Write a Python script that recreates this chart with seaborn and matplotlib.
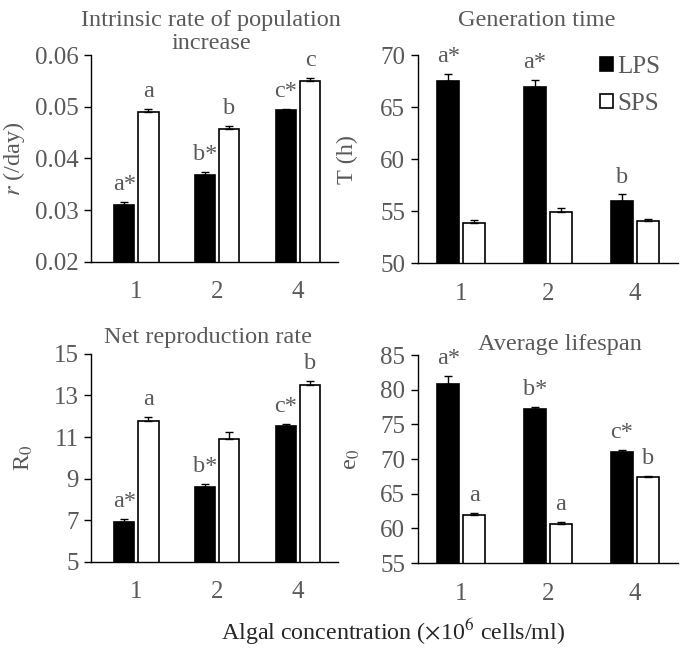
import numpy as np
import pandas as pd
import matplotlib
matplotlib.use("Agg")
import matplotlib.pyplot as plt
import seaborn as sns

sns.set_style("white")
plt.rcParams['font.family'] = ['Liberation Serif', 'DejaVu Serif']
plt.rcParams['mathtext.fontset'] = 'stix'

GRAY = '#595959'

conc = ["1", "2", "4"]
groups = ["LPS", "SPS"]

r_lps = [0.0310, 0.0368, 0.0493]
r_lps_se = [0.0006, 0.0006, 0.0003]
r_sps = [0.0490, 0.0457, 0.0550]
r_sps_se = [0.0005, 0.0005, 0.0006]

T_lps = [67.5, 66.9, 56.0]
T_lps_se = [0.7, 0.75, 0.6]
T_sps = [53.9, 54.9, 54.0]
T_sps_se = [0.2, 0.35, 0.2]

R0_lps = [6.92, 8.58, 11.53]
R0_lps_se = [0.14, 0.14, 0.1]
R0_sps = [11.77, 10.9, 13.5]
R0_sps_se = [0.2, 0.35, 0.18]

e0_lps = [80.9, 77.2, 71.0]
e0_lps_se = [1.05, 0.38, 0.29]
e0_sps = [62.0, 60.6, 67.35]
e0_sps_se = [0.24, 0.34, 0.2]

r_let = (["a*", "b*", "c*"], ["a", "b", "c"])
T_let = (["a*", "a*", "b"], ["", "", ""])
R0_let = (["a*", "b*", "c*"], ["a", "", "b"])
e0_let = (["a*", "b*", "c*"], ["a", "a", "b"])

panels = [
    # values, errors, letters, title lines, ylabel, ylim, yticks, fmt, rect, title pos, ylabel x, xlim
    ((r_lps, r_sps), (r_lps_se, r_sps_se), r_let,
     ["Intrinsic rate of population", "increase"], r"$\it{r}$ (/day)",
     (0.02, 0.06), np.arange(0.02, 0.061, 0.01), "{:.2f}",
     [0.133, 0.596, 0.361, 0.319], (0.486, 1.165), -0.31, (-0.56, 2.5)),
    ((T_lps, T_sps), (T_lps_se, T_sps_se), T_let,
     ["Generation time"], "T (h)",
     (50, 70), np.arange(50, 71, 5), "{:.0f}",
     [0.610, 0.594, 0.380, 0.321], (0.458, 1.165), -0.27, (-0.5, 2.5)),
    ((R0_lps, R0_sps), (R0_lps_se, R0_sps_se), R0_let,
     ["Net reproduction rate"], r"R$_0$",
     (5, 15), np.arange(5, 16, 2), "{:.0f}",
     [0.133, 0.133, 0.361, 0.321], (0.474, 1.078), -0.27, (-0.56, 2.5)),
    ((e0_lps, e0_sps), (e0_lps_se, e0_sps_se), e0_let,
     ["Average lifespan"], r"e$_0$",
     (55, 85), np.arange(55, 86, 5), "{:.0f}",
     [0.610, 0.131, 0.380, 0.321], (0.546, 1.05), -0.255, (-0.5, 2.5)),
]

fig = plt.figure(figsize=(6.85, 6.48), dpi=100)

for i, (vals, errs, lets, title, ylab, ylim, yt, fmt, rect, tpos, ylx, xl) in enumerate(panels):
    ax = fig.add_axes(rect)
    df = pd.DataFrame({
        "conc": conc * 2,
        "group": [groups[0]] * 3 + [groups[1]] * 3,
        "value": list(vals[0]) + list(vals[1]),
    })
    sns.barplot(data=df, x="conc", y="value", hue="group", order=conc,
                hue_order=groups, palette=["black", "white"],
                edgecolor="black", linewidth=1.2, width=0.6, gap=0.17,
                errorbar=None, legend=(i == 1), ax=ax)

    bar_conts = list(ax.containers)
    for k, cont in enumerate(bar_conts):
        xs = [b.get_x() + b.get_width() / 2 for b in cont]
        hs = [b.get_height() for b in cont]
        e = errs[k]
        ax.errorbar(xs, hs, yerr=[np.zeros(3), e], fmt='none', ecolor='black',
                    elinewidth=1, capsize=3, capthick=1)
        for x, h, ee, lab in zip(xs, hs, e, lets[k]):
            if lab:
                ax.annotate(lab, (x, h + ee), xytext=(0, 5), textcoords='offset points',
                            ha='center', va='bottom', fontsize=17.5, color=GRAY)

    ax.set_ylim(*ylim)
    ax.set_xlim(*xl)
    ax.set_yticks(yt)
    ax.set_yticklabels([fmt.format(v) for v in yt])
    ax.set_xticks([0, 1, 2])
    ax.set_xticklabels(conc)
    ax.set_xticks([-0.5, 0.5, 1.5, 2.5], minor=True)
    ax.tick_params(axis='x', which='major', length=0, labelsize=18, labelcolor=GRAY, pad=14)
    ax.tick_params(axis='x', which='minor', length=6, width=1, direction='out', color='black')
    ax.tick_params(axis='y', length=5, width=1, direction='out', left=True,
                   labelsize=18, labelcolor=GRAY, pad=4, color='black')
    sns.despine(ax=ax)
    for s in ['left', 'bottom']:
        ax.spines[s].set_color('black')
        ax.spines[s].set_linewidth(1)
    ax.set_xlabel("")
    ax.set_ylabel(ylab, fontsize=17.5, color=GRAY, va='center')
    ax.yaxis.set_label_coords(ylx, 0.5)
    # title lines, one text each (line step ~23 px)
    for j, line in enumerate(title):
        ax.text(tpos[0], tpos[1] - j * 23 / (rect[3] * 648), line, transform=ax.transAxes,
                ha='center', va='center', fontsize=17.5, color=GRAY)

    if i == 1:
        handles, labels = ax.get_legend_handles_labels()
        ax.legend(handles, labels, loc='upper left', bbox_to_anchor=(0.70, 0.995),
                  frameon=False, fontsize=18, labelcolor=GRAY, handlelength=0.5,
                  handleheight=0.5, handletextpad=0.2, labelspacing=0.6,
                  borderpad=0, borderaxespad=0)

fig.text(0.574, 0.025, r"Algal concentration ($\times$10$^6$ cells/ml)",
         ha='center', va='center', fontsize=17.3, color='#262626')

fig.savefig("out.png", dpi=100)
